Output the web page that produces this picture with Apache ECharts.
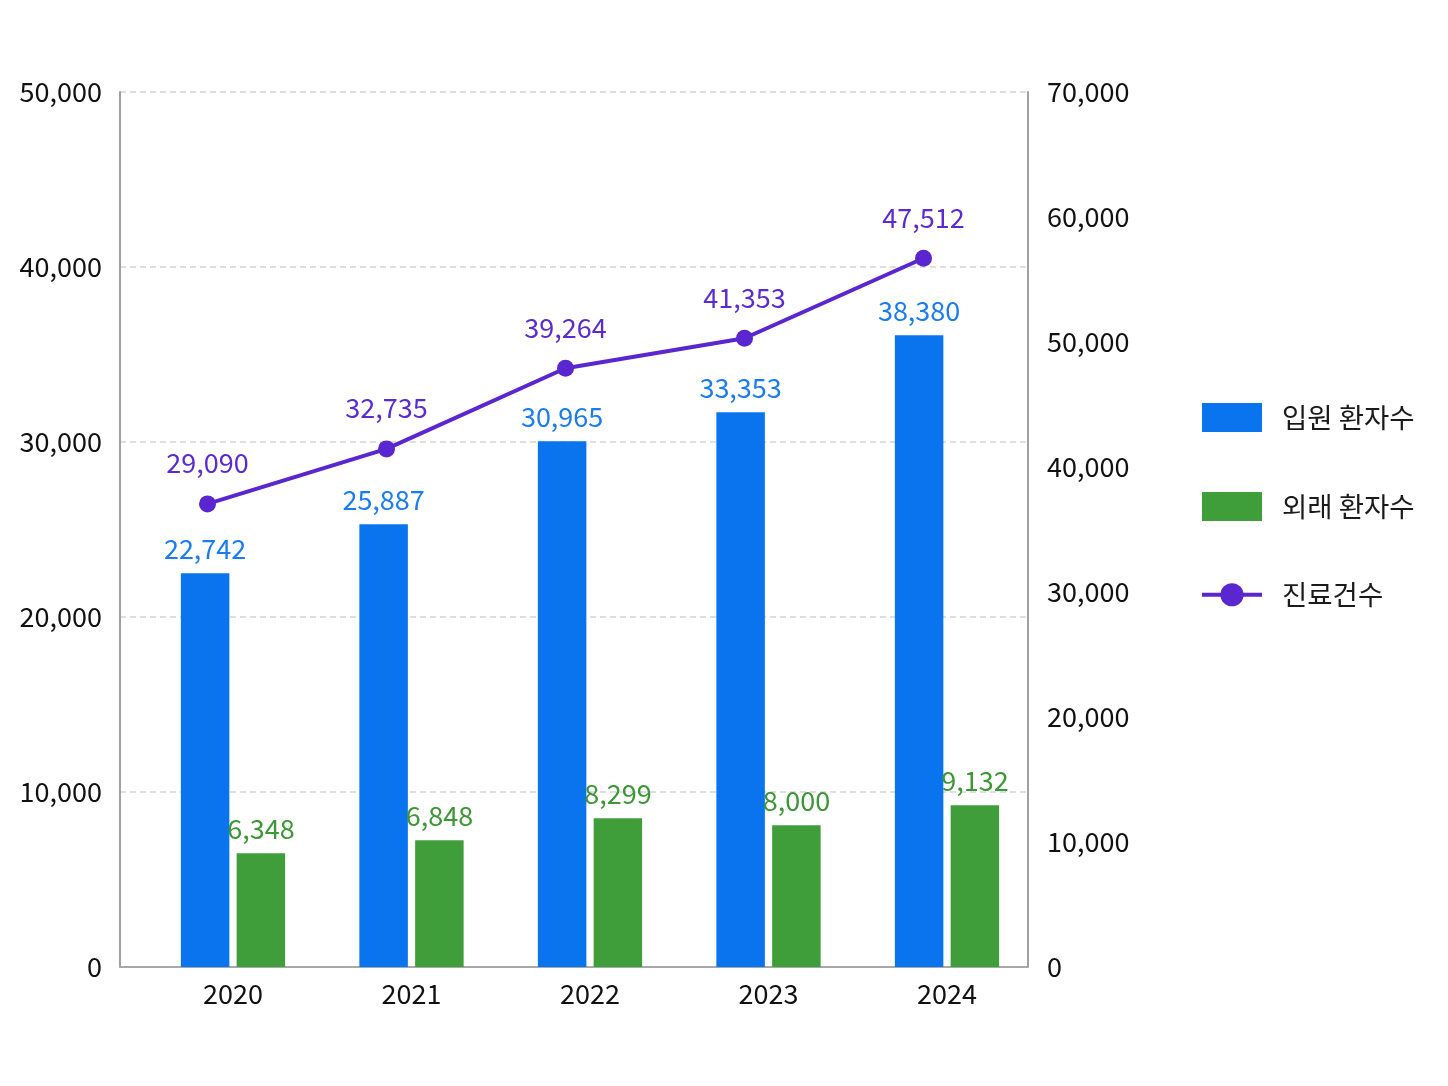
<!DOCTYPE html>
<html>
<head>
<meta charset="utf-8">
<title>입원 환자수 / 외래 환자수 / 진료건수</title>
<script src="https://cdn.jsdelivr.net/npm/echarts@6/dist/echarts.min.js"></script>
<style>
  html, body { margin: 0; padding: 0; background: #fff; }
  #chart { width: 1448px; height: 1086px; }
</style>
</head>
<body>
<div id="chart"></div>
<script>
// 데이터
var years = ['2020', '2021', '2022', '2023', '2024'];

// 막대 높이는 그림에서 읽은 값, 라벨은 그림에 찍힌 숫자
var inpatient = [22500, 25300, 30050, 31700, 36100];
var inpatientLabels = ['22,742', '25,887', '30,965', '33,353', '38,380'];

var outpatient = [6500, 7250, 8500, 8100, 9250];
var outpatientLabels = ['6,348', '6,848', '8,299', '8,000', '9,132'];

var visits = [37050, 41450, 47900, 50300, 56700];
var visitLabels = ['29,090', '32,735', '39,264', '41,353', '47,512'];

var leftAxis = { min: 0, max: 50000, interval: 10000 };
var rightAxis = { min: 0, max: 70000, interval: 10000 };

var FONT = "'Noto Sans CJK KR', 'Noto Sans', sans-serif";
var FS = 27;
var BLUE = '#0a74ef';
var GREEN = '#409e3a';
var PURPLE = '#5a26cf';

function comma(v) {
    return String(v).replace(/\B(?=(\d{3})+(?!\d))/g, ',');
}

var chart = echarts.init(document.getElementById('chart'));

var option = {
    animation: false,
    backgroundColor: '#fff',
    textStyle: { fontFamily: FONT },
    legend: {
        orient: 'vertical',
        left: 1200,
        top: 403,
        padding: 0,
        itemWidth: 60,
        itemHeight: 29,
        itemGap: 60,
        textStyle: { fontFamily: FONT, fontSize: 27.5, color: '#1a1a1a', padding: [0, 0, 0, 15] },
        data: [
            { name: '입원 환자수', icon: 'rect' },
            { name: '외래 환자수', icon: 'rect' },
            { name: '진료건수', lineStyle: { width: 4 } }
        ]
    },
    grid: [
        // 테두리, 눈금선
        { left: 120, top: 92, width: 908, height: 875 },
        // 막대
        { left: 143.75, top: 92, width: 892.5, height: 875 },
        // 꺾은선
        { left: 118, top: 92, width: 895, height: 875 }
    ],
    xAxis: [
        {
            gridIndex: 0, type: 'category', data: years,
            axisLine: { show: true, lineStyle: { color: '#a8a8a8', width: 2 } },
            axisTick: { show: false }, axisLabel: { show: false }, splitLine: { show: false }
        },
        {
            gridIndex: 1, type: 'category', data: years,
            axisLine: { show: false }, axisTick: { show: false },
            axisLabel: { fontFamily: FONT, fontSize: FS, color: '#111', margin: 13 }
        },
        { gridIndex: 2, type: 'category', data: years, show: false }
    ],
    yAxis: [
        {
            gridIndex: 0, type: 'value', position: 'left',
            min: leftAxis.min, max: leftAxis.max, interval: leftAxis.interval,
            axisLine: { show: true, lineStyle: { color: '#a0a0a0', width: 2 } },
            axisTick: { show: false },
            axisLabel: { fontFamily: FONT, fontSize: FS, color: '#111', margin: 18, formatter: comma },
            splitLine: { show: true, lineStyle: { color: '#d4d4d4', type: [6, 4], width: 1.5 } }
        },
        {
            gridIndex: 0, type: 'value', position: 'right',
            min: rightAxis.min, max: rightAxis.max, interval: rightAxis.interval,
            axisLine: { show: true, lineStyle: { color: '#a0a0a0', width: 2 } },
            axisTick: { show: false },
            axisLabel: { fontFamily: FONT, fontSize: FS, color: '#111', margin: 19, formatter: comma },
            splitLine: { show: false }
        },
        { gridIndex: 1, type: 'value', min: leftAxis.min, max: leftAxis.max, show: false, splitLine: { show: false } },
        { gridIndex: 2, type: 'value', min: rightAxis.min, max: rightAxis.max, show: false, splitLine: { show: false } }
    ],
    series: [
        {
            name: '입원 환자수', type: 'bar',
            xAxisIndex: 1, yAxisIndex: 2,
            barWidth: 48.5, barGap: '15%',
            itemStyle: { color: BLUE },
            label: {
                show: true, position: 'top', distance: 11,
                fontFamily: FONT, fontSize: FS, color: '#1b7cf0',
                formatter: function (p) { return inpatientLabels[p.dataIndex]; }
            },
            data: inpatient
        },
        {
            name: '외래 환자수', type: 'bar',
            xAxisIndex: 1, yAxisIndex: 2,
            barWidth: 48.5, barGap: '15%',
            itemStyle: { color: GREEN },
            label: {
                show: true, position: 'top', distance: 11,
                fontFamily: FONT, fontSize: FS, color: '#3d9736',
                formatter: function (p) { return outpatientLabels[p.dataIndex]; }
            },
            data: outpatient
        },
        {
            name: '진료건수', type: 'line',
            xAxisIndex: 2, yAxisIndex: 3,
            symbol: 'circle', symbolSize: 17,
            lineStyle: { color: PURPLE, width: 4 },
            itemStyle: { color: PURPLE },
            label: {
                show: true, position: 'top', distance: 19,
                fontFamily: FONT, fontSize: FS, color: '#5a2bd0',
                formatter: function (p) { return visitLabels[p.dataIndex]; }
            },
            z: 5,
            data: visits
        }
    ]
};

chart.setOption(option);
</script>
</body>
</html>
